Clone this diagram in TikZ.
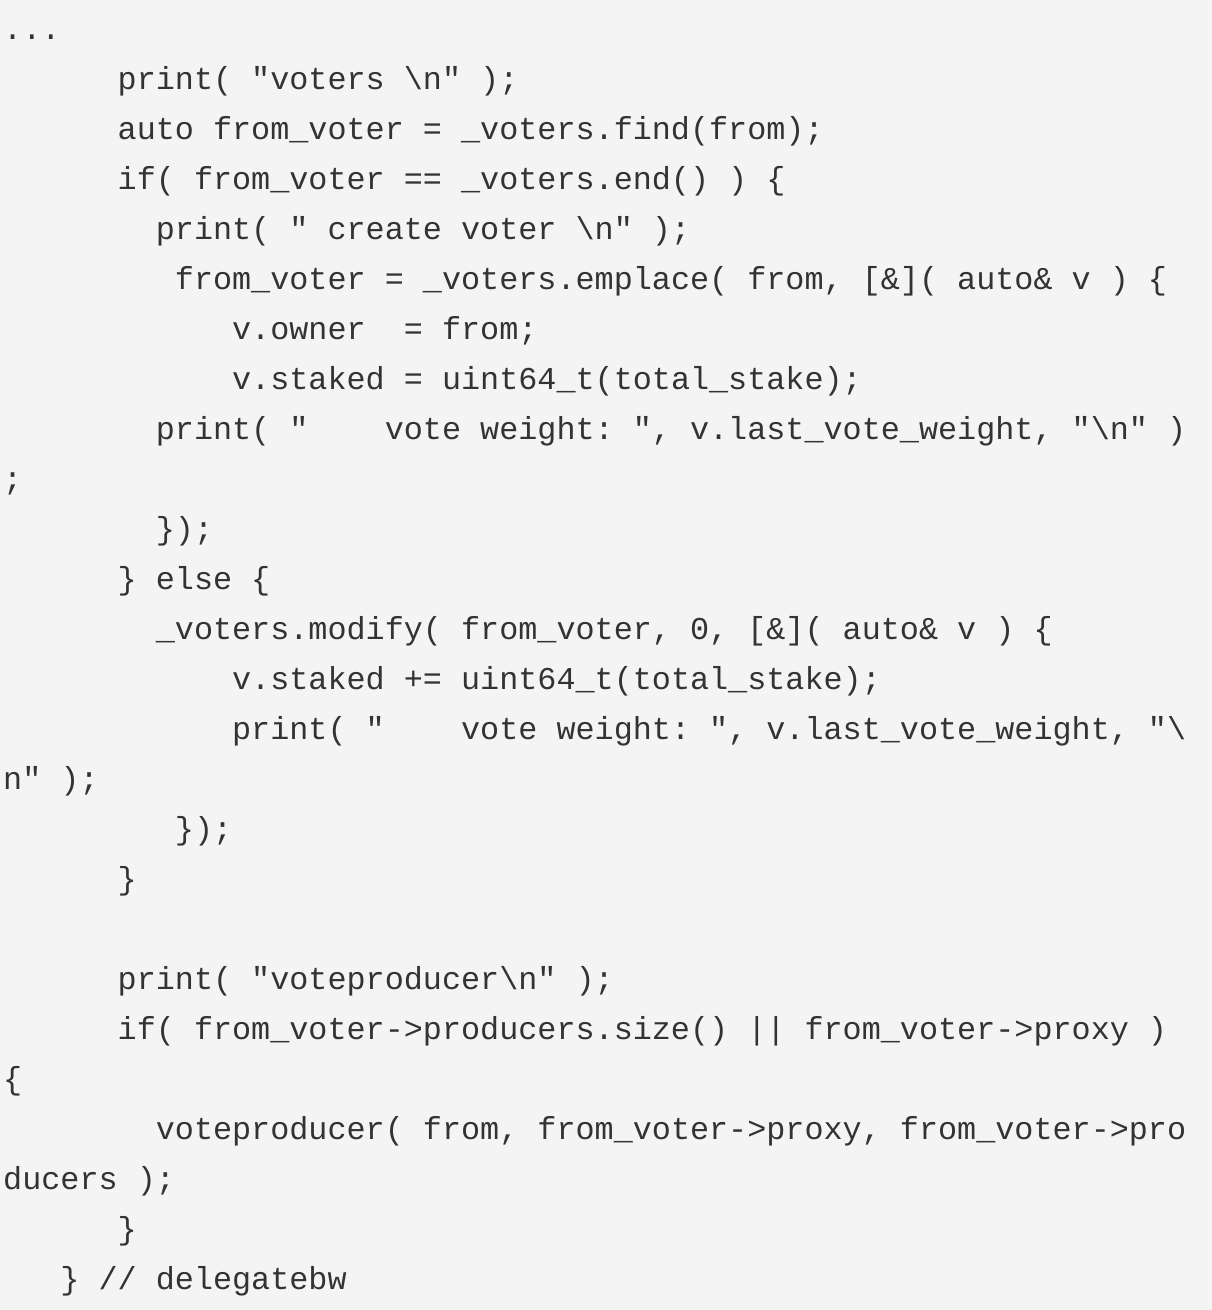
\documentclass[tikz,border=0pt]{standalone}
\usepackage{fontspec}
\setmonofont{Liberation Mono}
\definecolor{bg}{HTML}{F4F4F4}
\definecolor{fg}{HTML}{333333}
\newcommand{\bs}{\textbackslash}
\tikzset{code/.style={anchor=base west,inner sep=0pt,text=fg,font=\ttfamily\fontsize{31.8pt}{40pt}\selectfont}}
\newcommand{\cl}[3]{\node[code] (l#1) at ({3+#2*19.08},{-(39+50*#1)}) {#3};}
\begin{document}
\begin{tikzpicture}[x=1pt,y=1pt]
\fill[bg] (0,0) rectangle (1212,-1310);
\useasboundingbox (0,0) rectangle (1212,-1310);
\cl{0}{0}{...}
\cl{1}{6}{print( "voters \bs n" );}
\cl{2}{6}{auto from\_voter = \_voters.find(from);}
\cl{3}{6}{if( from\_voter == \_voters.end() ) \{}
\cl{4}{8}{print( " create voter \bs n" );}
\cl{5}{9}{from\_voter = \_voters.emplace( from, [\&]( auto\& v ) \{}
\cl{6}{12}{v.owner\ \ = from;}
\cl{7}{12}{v.staked = uint64\_t(total\_stake);}
\cl{8}{8}{print( "\ \ \ \ vote weight: ", v.last\_vote\_weight, "\bs n" )}
\cl{9}{0}{;}
\cl{10}{8}{\});}
\cl{11}{6}{\} else \{}
\cl{12}{8}{\_voters.modify( from\_voter, 0, [\&]( auto\& v ) \{}
\cl{13}{12}{v.staked += uint64\_t(total\_stake);}
\cl{14}{12}{print( "\ \ \ \ vote weight: ", v.last\_vote\_weight, "\bs}
\cl{15}{0}{n" );}
\cl{16}{9}{\});}
\cl{17}{6}{\}}
\cl{19}{6}{print( "voteproducer\bs n" );}
\cl{20}{6}{if( from\_voter->producers.size() || from\_voter->proxy )}
\cl{21}{0}{\{}
\cl{22}{8}{voteproducer( from, from\_voter->proxy, from\_voter->pro}
\cl{23}{0}{ducers );}
\cl{24}{6}{\}}
\cl{25}{3}{\} // delegatebw}
\end{tikzpicture}
\end{document}
